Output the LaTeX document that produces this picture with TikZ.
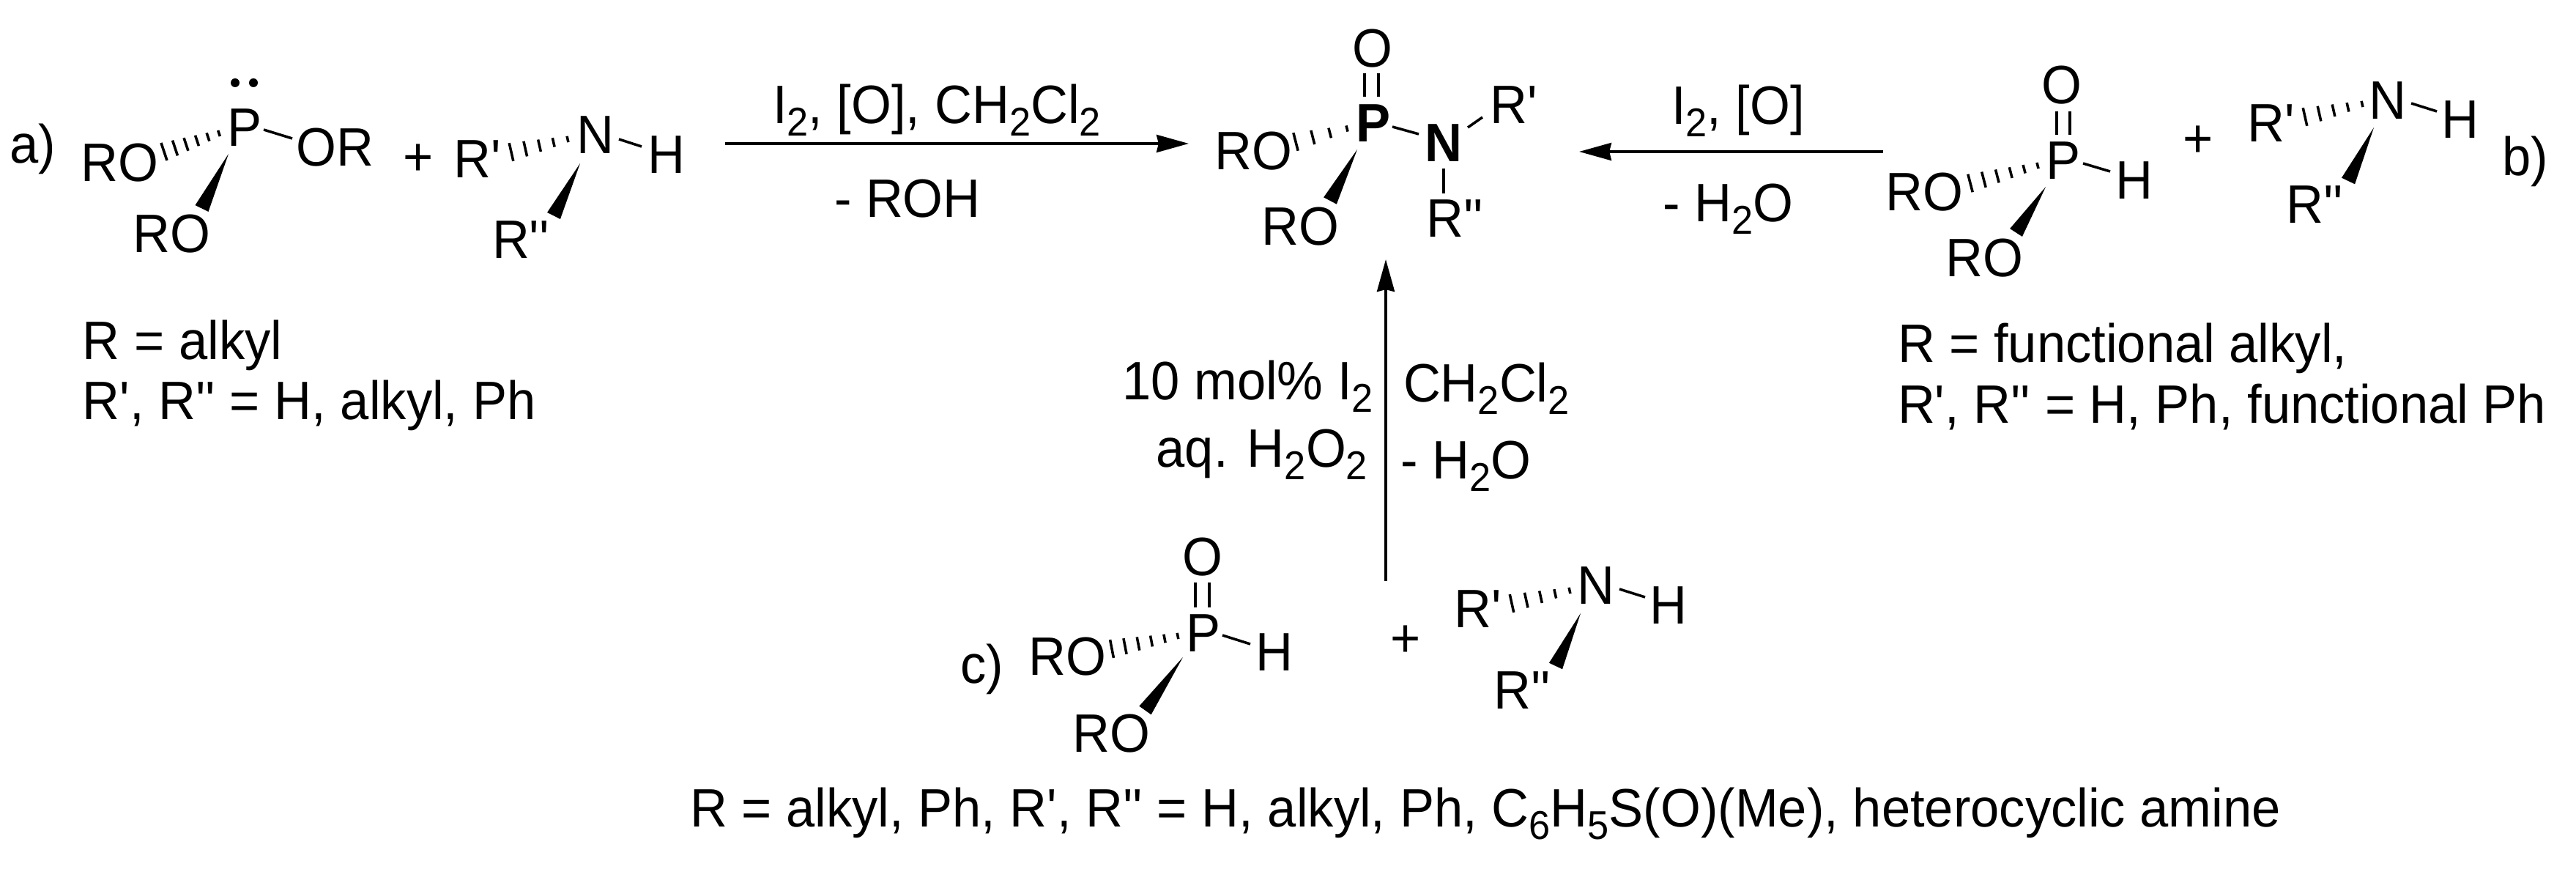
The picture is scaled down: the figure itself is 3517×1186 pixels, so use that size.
\documentclass[tikz,border=0pt]{standalone}
\usepackage{fontspec}
\setmainfont{Liberation Sans}[Ligatures=TeXOff,FakeStretch=0.955]
\usetikzlibrary{arrows.meta,calc}
\newcommand{\chemsub}[1]{\raisebox{-4.7pt}{\fontsize{15.6pt}{15.6pt}\selectfont #1}}
\newcommand{\hashbond}[3]{\coordinate (hq) at ($(#1)!1.5!(#2)$);
	\foreach \t in {0,...,#3}{
		\pgfmathsetmacro\u{\t/#3}\pgfmathsetmacro\w{1.2+2.4*\u}
		\draw[hashline] ($(#1)!\u!(#2)!\w pt!90:(hq)$) -- ($(#1)!\u!(#2)!\w pt!-90:(hq)$);}}
\newcommand{\wedgebond}[2]{\fill (#1) -- ($(#2)!2.85pt!90:(#1)$) -- ($(#2)!2.85pt!-90:(#1)$) -- cycle;}
\tikzset{
	atom/.style={inner sep=0pt,outer sep=0pt,font=\fontsize{21pt}{24pt}\selectfont},
	batom/.style={atom,font=\fontsize{21pt}{24pt}\selectfont\bfseries},
	lab/.style={atom,anchor=base west},
	labr/.style={atom,anchor=base east},
	bond/.style={line width=1pt},
	hashline/.style={line width=1pt},
	rxn/.style={line width=1.1pt,-{Stealth[length=12.5pt,width=6.8pt,inset=0.8pt]}}
}
\begin{document}
\begin{tikzpicture}[x=0.01cm,y=-0.01cm]
	\useasboundingbox (0,0) rectangle (3517,1186);
	% Phosphite a
	\node[lab] (la) at (13,223) {a)};
	\node[atom] (Pa) at (334.5,174) {P};
	\node[atom] (ROa) at (163.5,222.5) {RO};
	\node[atom] (ORa) at (457.5,201) {OR};
	\node[atom] (ROa2) at (234.5,319) {RO};
	\foreach \x in {321,346}
	\fill (\x,113) circle (6);
	\hashbond{[shift={(-35.5,8)}]Pa.center}{[shift={(60.5,-15.5)}]ROa.center}{5}
	\wedgebond{[shift={(-22.5,36)}]Pa.center}{[shift={(41,-34.5)}]ROa2.center}
	\draw[bond] ([shift={(25.5,3)}]Pa.center) -- ([shift={(-58.5,-12)}]ORa.center);
	\node[atom] (pla) at (571,218) {+};
	% Amine a
	\node[atom] (Na) at (812.5,184.5) {N};
	\node[atom] (Rpa) at (651.5,217.5) {R'};
	\node[atom] (Ha) at (909.5,211.5) {H};
	\node[atom] (Rqa) at (711,327.5) {R''};
	\hashbond{[shift={(-37.5,5.5)}]Na.center}{[shift={(46.5,-10)}]Rpa.center}{4}
	\wedgebond{[shift={(-20.5,38.5)}]Na.center}{[shift={(45,-33)}]Rqa.center}
	\draw[bond] ([shift={(32.5,5.5)}]Na.center) -- ([shift={(-33.5,-11.5)}]Ha.center);
	\node[lab] (ta1) at (113,491) {R = alkyl};
	\node[lab] (ta2) at (113,573) {R', R'' = H, alkyl, Ph};
	% Produit
	\node[atom] (Op) at (1874,66) {O};
	\node[batom] (Pp) at (1875,168) {P};
	\node[batom] (Np) at (1971,195.5) {N};
	\node[atom] (ROp) at (1711.5,206.5) {RO};
	\node[atom] (ROp2) at (1775.5,309) {RO};
	\node[atom] (Rpp) at (2066.5,143) {R'};
	\node[atom] (Rqp) at (1986.5,298) {R''};
	\draw[bond] ([shift={(-11,34)}]Op.center) -- ([shift={(-12,-36)}]Pp.center);
	\draw[bond] ([shift={(8,34)}]Op.center) -- ([shift={(7,-36)}]Pp.center);
	\hashbond{[shift={(-36,7.5)}]Pp.center}{[shift={(57.5,-13)}]ROp.center}{3}
	\wedgebond{[shift={(-22,36)}]Pp.center}{[shift={(40.5,-35)}]ROp2.center}
	\draw[bond] ([shift={(26,5)}]Pp.center) -- ([shift={(-34,-12.5)}]Np.center);
	\draw[bond] ([shift={(33,-21.5)}]Np.center) -- ([shift={(-42.5,17)}]Rpp.center);
	\draw[bond] ([shift={(0,34.5)}]Np.center) -- ([shift={(-15.5,-34)}]Rqp.center);
	% Phosphonate b
	\node[atom] (Ob) at (2815,116.5) {O};
	\node[atom] (Pb) at (2817,219) {P};
	\node[atom] (ROb) at (2627.5,262.5) {RO};
	\node[atom] (ROb2) at (2709.5,352.5) {RO};
	\node[atom] (Hb) at (2914,246.5) {H};
	\draw[bond] ([shift={(-7,35.5)}]Ob.center) -- ([shift={(-9,-35)}]Pb.center);
	\draw[bond] ([shift={(11,35.5)}]Ob.center) -- ([shift={(9,-35)}]Pb.center);
	\hashbond{[shift={(-35,7)}]Pb.center}{[shift={(62.5,-12.5)}]ROb.center}{5}
	\wedgebond{[shift={(-24,36)}]Pb.center}{[shift={(43,-35)}]ROb2.center}
	\draw[bond] ([shift={(27,4)}]Pb.center) -- ([shift={(-33,-12.5)}]Hb.center);
	\node[atom] (plb) at (3001,193) {+};
	% Amine b
	\node[atom] (Nb) at (3259.5,137) {N};
	\node[atom] (Rpb) at (3101,168) {R'};
	\node[atom] (Hb2) at (3358.5,163) {H};
	\node[atom] (Rqb) at (3160.5,279) {R''};
	\hashbond{[shift={(-34.5,5)}]Nb.center}{[shift={(46,-8.5)}]Rpb.center}{4}
	\wedgebond{[shift={(-18.5,37)}]Nb.center}{[shift={(45.5,-32)}]Rqb.center}
	\draw[bond] ([shift={(32.5,4)}]Nb.center) -- ([shift={(-31.5,-11)}]Hb2.center);
	\node[lab] (lb) at (3416,240) {b)};
	\node[lab] (tb1) at (2591,495) {R = functional alkyl,};
	\node[lab] (tb2) at (2591,578) {R', R'' = H, Ph, functional Ph};
	% Phosphonate c
	\node[lab] (lc) at (1311,933) {c)};
	\node[atom] (Oc) at (1642,760.5) {O};
	\node[atom] (Pc) at (1643,864) {P};
	\node[atom] (ROc) at (1457.5,896.5) {RO};
	\node[atom] (ROc2) at (1517.5,1001.5) {RO};
	\node[atom] (Hc) at (1740,890.5) {H};
	\draw[bond] ([shift={(-10,34.5)}]Oc.center) -- ([shift={(-11,-35)}]Pc.center);
	\draw[bond] ([shift={(9,34.5)}]Oc.center) -- ([shift={(8,-35)}]Pc.center);
	\hashbond{[shift={(-35,4)}]Pc.center}{[shift={(60.5,-11)}]ROc.center}{5}
	\wedgebond{[shift={(-28,33)}]Pc.center}{[shift={(46,-32)}]ROc2.center}
	\draw[bond] ([shift={(26,3)}]Pc.center) -- ([shift={(-33,-11.5)}]Hc.center);
	\node[atom] (plc) at (1919,875) {+};
	% Amine c
	\node[atom] (Nc) at (2179,799.5) {N};
	\node[atom] (Rpc) at (2018,831.5) {R'};
	\node[atom] (Hc2) at (2278,826.5) {H};
	\node[atom] (Rqc) at (2078,942) {R''};
	\hashbond{[shift={(-36,6.5)}]Nc.center}{[shift={(46,-8)}]Rpc.center}{4}
	\wedgebond{[shift={(-21,37.5)}]Nc.center}{[shift={(46,-33)}]Rqc.center}
	\draw[bond] ([shift={(32,4.5)}]Nc.center) -- ([shift={(-32,-11.5)}]Hc2.center);
	\node[lab] (tc) at (942,1129) {R = alkyl, Ph, R', R'' = H, alkyl, Ph, C\chemsub{6}H\chemsub{5}S(O)(Me), heterocyclic amine};
	% Fleches
	\coordinate (a0) at (990,196);
	\coordinate (a1) at (1623,196);
	\coordinate (b0) at (2571,207);
	\coordinate (b1) at (2156,207);
	\coordinate (c0) at (1892,793);
	\coordinate (c1) at (1892,354);
	\draw[rxn] (a0) -- (a1);
	\draw[rxn] (b0) -- (b1);
	\draw[rxn] (c0) -- (c1);
	\node[lab] (ra1) at (1055,169) {I\chemsub{2}, [O], CH\chemsub{2}Cl\chemsub{2}};
	\node[lab] (ra2) at (1139,297) {- ROH};
	\node[lab] (rb1) at (2282,170) {I\chemsub{2}, [O]};
	\node[lab] (rb2) at (2270,303) {- H\chemsub{2}O};
	\node[labr] (rc1) at (1875,546) {10 mol\% I\chemsub{2}};
	\node[labr] (rc2) at (1867,638) {aq. H\chemsub{2}O\chemsub{2}};
	\node[lab] (rc3) at (1916,549) {CH\chemsub{2}Cl\chemsub{2}};
	\node[lab] (rc4) at (1912,654) {- H\chemsub{2}O};
\end{tikzpicture}
\end{document}
